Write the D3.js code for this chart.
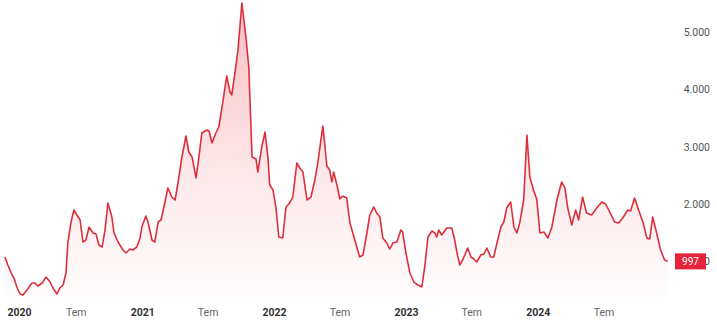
<!DOCTYPE html>
<html>
<head>
<meta charset="utf-8">
<script src="https://cdn.jsdelivr.net/npm/d3@7"></script>
<style>
  html, body { margin: 0; padding: 0; background: #fff; }
  svg { display: block; }
</style>
</head>
<body>
<svg id="chart" width="717" height="332"></svg>
<script>
const dates = [
"2019-12-18","2019-12-26","2020-01-07","2020-01-12","2020-01-20","2020-01-29","2020-02-06","2020-02-17","2020-03-02","2020-03-10",
"2020-03-18","2020-03-30","2020-04-10","2020-04-21","2020-04-29","2020-05-10","2020-05-18","2020-05-27","2020-06-04","2020-06-09",
"2020-06-18","2020-06-26","2020-07-04","2020-07-13","2020-07-21","2020-07-29","2020-08-07","2020-08-18","2020-08-26","2020-09-03",
"2020-09-12","2020-09-20","2020-09-28","2020-10-09","2020-10-15","2020-10-26","2020-11-09","2020-11-17","2020-11-28","2020-12-06",
"2020-12-17","2020-12-26","2020-12-31","2021-01-11","2021-01-17","2021-01-28","2021-02-05","2021-02-14","2021-02-22","2021-03-02",
"2021-03-13","2021-03-24","2021-04-02","2021-04-10","2021-04-21","2021-05-02","2021-05-10","2021-05-19","2021-05-30","2021-06-07",
"2021-06-15","2021-06-29","2021-07-05","2021-07-13","2021-07-24","2021-08-01","2021-08-10","2021-08-23","2021-09-01","2021-09-06",
"2021-09-15","2021-09-23","2021-10-04","2021-10-15","2021-10-23","2021-11-01","2021-11-12","2021-11-17","2021-11-28","2021-12-07",
"2021-12-15","2021-12-20","2021-12-29","2022-01-06","2022-01-14","2022-01-25","2022-02-03","2022-02-11","2022-02-22","2022-03-05",
"2022-03-13","2022-03-22","2022-04-02","2022-04-13","2022-04-24","2022-05-02","2022-05-16","2022-05-22","2022-05-27","2022-06-04",
"2022-06-10","2022-06-15","2022-06-24","2022-07-02","2022-07-10","2022-07-21","2022-07-30","2022-08-07","2022-08-18","2022-08-26",
"2022-09-04","2022-09-15","2022-09-23","2022-10-04","2022-10-12","2022-10-21","2022-10-29","2022-11-09","2022-11-17","2022-11-26",
"2022-12-07","2022-12-18","2022-12-23","2023-01-01","2023-01-12","2023-01-23","2023-02-03","2023-02-14","2023-02-22","2023-03-03",
"2023-03-14","2023-03-22","2023-03-27","2023-04-02","2023-04-10","2023-04-24","2023-05-08","2023-05-16","2023-05-22","2023-05-30",
"2023-06-07","2023-06-13","2023-06-21","2023-06-30","2023-07-08","2023-07-16","2023-07-27","2023-08-05","2023-08-13","2023-08-24",
"2023-09-01","2023-09-10","2023-09-21","2023-09-29","2023-10-07","2023-10-18","2023-10-27","2023-11-04","2023-11-12","2023-11-23",
"2023-12-02","2023-12-10","2023-12-21","2023-12-29","2024-01-07","2024-01-18","2024-01-29","2024-02-09","2024-02-23","2024-03-07",
"2024-03-16","2024-03-24","2024-04-04","2024-04-15","2024-04-23","2024-05-04","2024-05-15","2024-05-29","2024-06-12","2024-06-26",
"2024-07-07","2024-07-18","2024-08-01","2024-08-12","2024-08-23","2024-09-06","2024-09-14","2024-09-25","2024-10-06","2024-10-18",
"2024-10-29","2024-11-06","2024-11-14","2024-11-25","2024-12-06","2024-12-17","2024-12-26"
];
const values = [
1073,934,759,706,549,427,409,497,619,619,
566,619,724,636,531,427,531,584,794,1318,
1685,1895,1808,1720,1336,1371,1598,1493,1476,1283,
1248,1545,2017,1773,1493,1336,1196,1143,1213,1196,
1248,1406,1598,1790,1685,1371,1336,1685,1720,1948,
2280,2122,2070,2367,2822,3189,2909,2822,2455,2822,
3241,3294,3276,3066,3241,3346,3696,4238,3958,3906,
4308,4692,5514,4920,4395,2822,2787,2559,2997,3259,
2822,2332,2245,1948,1423,1406,1948,2000,2122,2717,
2629,2559,2070,2122,2420,2717,3364,2997,2664,2594,
2385,2559,2332,2087,2140,2105,1668,1493,1248,1073,
1108,1493,1808,1948,1843,1773,1406,1318,1213,1318,
1336,1545,1510,1143,794,636,584,549,899,1423,
1528,1493,1423,1545,1458,1580,1580,1371,1161,934,
1021,1108,1231,1073,1038,986,1108,1126,1231,1073,
1073,1318,1598,1685,1930,2035,1598,1493,1668,2070,
3206,2472,2227,2087,1493,1510,1406,1598,2070,2385,
2280,1930,1633,1895,1720,2122,1843,1808,1930,2035,
2000,1860,1685,1668,1755,1895,1878,2105,1895,1685,
1406,1388,1773,1493,1196,1021,997
];
const yTicks = [1000, 2000, 3000, 4000, 5000];
const yTickLabels = ["1.000", "2.000", "3.000", "4.000", "5.000"];
const xTicks = ["2020-01-01","2020-07-01","2021-01-01","2021-07-01","2022-01-01","2022-07-01","2023-01-01","2023-07-01","2024-01-01","2024-07-01"];
const xTickLabels = ["2020","Tem","2021","Tem","2022","Tem","2023","Tem","2024","Tem"];
const lastLabel = "997";

const parse = d3.timeParse("%Y-%m-%d");
const data = dates.map((d, i) => ({ date: parse(d), value: values[i] }));

const svg = d3.select("#chart");
const x = d3.scaleTime()
  .domain([parse("2020-01-01"), parse("2025-01-01")])
  .range([10, 670]);
const y = d3.scaleLinear().domain([0, 5000]).range([318.4, 32.4]);
const bottom = 300;

const defs = svg.append("defs");
const grad = defs.append("linearGradient")
  .attr("id", "fillGrad")
  .attr("gradientUnits", "userSpaceOnUse")
  .attr("x1", 0).attr("y1", 0).attr("x2", 0).attr("y2", bottom);
grad.append("stop").attr("offset", "0%").attr("stop-color", "#e8323f").attr("stop-opacity", 0.32);
grad.append("stop").attr("offset", "55%").attr("stop-color", "#e8323f").attr("stop-opacity", 0.12);
grad.append("stop").attr("offset", "100%").attr("stop-color", "#e8323f").attr("stop-opacity", 0.01);

const area = d3.area()
  .x(d => x(d.date))
  .y0(bottom)
  .y1(d => y(d.value));
const line = d3.line()
  .x(d => x(d.date))
  .y(d => y(d.value));

svg.append("path").datum(data)
  .attr("d", area)
  .attr("fill", "url(#fillGrad)");
svg.append("path").datum(data)
  .attr("d", line)
  .attr("fill", "none")
  .attr("stroke", "#dc2f3c")
  .attr("stroke-width", 1.6)
  .attr("stroke-linejoin", "round");

// Y axis labels (right)
const yAxis = d3.axisRight(y).tickValues(yTicks)
  .tickFormat((d, i) => yTickLabels[i]).tickSize(0).tickPadding(0);
const yg = svg.append("g").attr("transform", "translate(710,0)").call(yAxis);
yg.select(".domain").remove();
yg.selectAll("text")
  .attr("text-anchor", "end")
  .attr("font-family", "Roboto, 'Liberation Sans', sans-serif")
  .attr("font-size", 10.5)
  .attr("fill", "#555");

// X axis labels
const xAxis = d3.axisBottom(x).tickValues(xTicks.map(parse))
  .tickFormat((d, i) => xTickLabels[i]).tickSize(0).tickPadding(0);
const xg = svg.append("g").attr("transform", "translate(0,309)").call(xAxis);
xg.select(".domain").remove();
xg.selectAll("text")
  .attr("font-family", "Roboto, 'Liberation Sans', sans-serif")
  .attr("font-size", 10.5)
  .attr("fill", (d, i) => i % 2 === 0 ? "#333" : "#666")
  .attr("font-weight", (d, i) => i % 2 === 0 ? "bold" : "normal");
xg.selectAll(".tick").filter((d, i) => i === 0)
  .select("text").attr("text-anchor", "start").attr("x", -3);

// last value badge
const last = data[data.length - 1];
const by = y(last.value);
svg.append("rect")
  .attr("x", 675).attr("y", by - 8).attr("width", 31).attr("height", 16)
  .attr("fill", "#e5243a");
svg.append("text")
  .attr("x", 690.5).attr("y", by + 3.5)
  .attr("text-anchor", "middle")
  .attr("font-family", "Roboto, 'Liberation Sans', sans-serif")
  .attr("font-size", 10)
  .attr("fill", "#fff")
  .text(lastLabel);
</script>
</body>
</html>
